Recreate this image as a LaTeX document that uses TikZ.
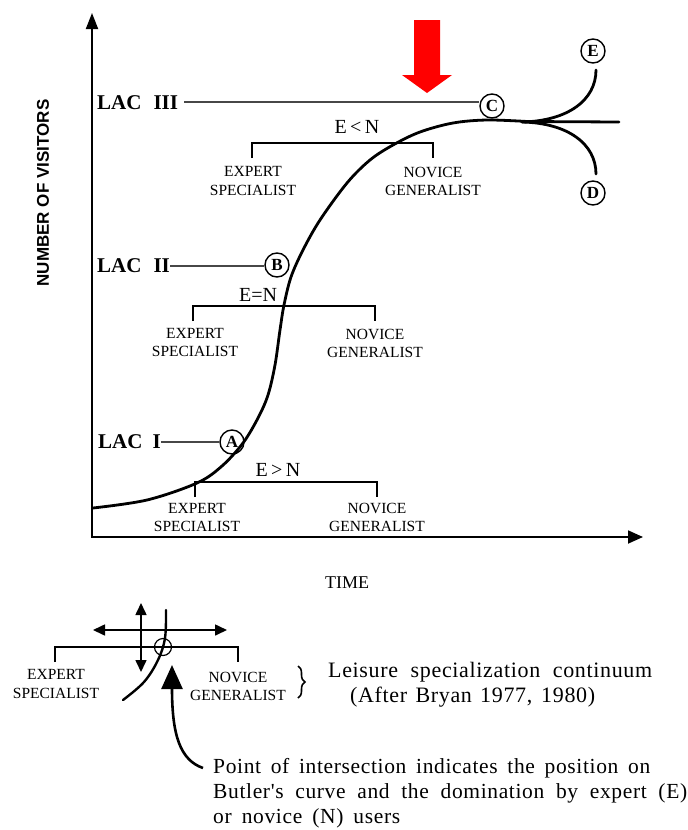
\documentclass[tikz,border=0pt]{standalone}
\usepackage{fontspec}
\setmainfont{Liberation Serif}
\newfontfamily\sansf{Liberation Sans}
\newfontfamily\spacedf{Liberation Serif}[LetterSpace=3]
\usetikzlibrary{arrows.meta,decorations.pathreplacing}
\tikzset{
  axisline/.style={line width=1.8pt, {Triangle[length=16pt,width=12pt]}-{Triangle[length=15pt,width=13pt]}},
  curveline/.style={line width=2.8pt, line cap=round},
  lacline/.style={line width=2.8pt, black!72},
  bracketline/.style={line width=2pt},
  circ/.style={circle, draw, line width=1.4pt, inner sep=0pt, minimum size=24pt, font=\bfseries\fontsize{17}{17}\selectfont},
  lac/.style={anchor=west, inner sep=0pt, font=\bfseries\fontsize{21}{21}\selectfont},
  rel/.style={inner sep=0pt, font=\fontsize{20}{20}\selectfont},
  role/.style={inner sep=0pt, align=center, font=\fontsize{15.5}{18.5}\selectfont},
  legarrow/.style={line width=1.6pt, {Triangle[length=12pt,width=11pt]}-{Triangle[length=12pt,width=11pt]}},
  note/.style={anchor=west, inner sep=0pt, font=\spacedf\fontsize{21.5}{25}\selectfont}
}
\begin{document}
\begin{tikzpicture}[x=1pt,y=-1pt]
\useasboundingbox (0,0) rectangle (688,830);
% axes
\coordinate (ytop) at (92,13);
\coordinate (origin) at (92,537);
\coordinate (xend) at (643,537);
\draw[axisline] (ytop) -- (origin) -- (xend);
\node[rotate=90, inner sep=0pt, font=\sansf\bfseries\fontsize{17}{17}\selectfont] (ylab) at (43,193) {NUMBER OF VISITORS};
\node[inner sep=0pt, font=\fontsize{18}{18}\selectfont] (time) at (347,583) {TIME};
% red arrow
\fill[red] (414,20) -- (440,20) -- (440,75) -- (452,75) -- (427,93) -- (402,75) -- (414,75) -- cycle;
% main curve
\draw[curveline] plot[smooth, tension=0.55] coordinates {(93,508) (147,500) (197,483) (222,466) (243,443) (258,418) (268,395) (275,365) (280,330) (284,305) (291,277) (303,250) (320,220) (347,183) (370,160) (393,145) (420,132) (453,123) (487,120) (527,121.5)} -- (619,122);
% branches
\coordinate (fork) at (522,122);
\draw[curveline] (fork) .. controls (568,121) and (596,100) .. (596,70);
\draw[curveline] (fork) .. controls (568,123) and (596,144) .. (596,174);
% circled letters
\node[circ] (A) at (232,442) {A};
\node[circ] (B) at (277,265) {B};
\node[circ] (C) at (492,106) {C};
\node[circ] (E) at (593,51) {E};
\node[circ] (D) at (593,193) {D};
% LAC labels
\node[lac] (lac3) at (97,103) {LAC\hspace{12pt}III};
\node[lac] (lac2) at (97,266) {LAC\hspace{12pt}II};
\node[lac] (lac1) at (98,442) {LAC\hspace{10pt}I};
\draw[lacline] ([xshift=6pt,yshift=1pt]lac3.east) -- ([yshift=1pt]lac3.east -| C.west);
\draw[lacline] (lac2.east) -- (lac2.east -| B.west);
\draw[lacline] (lac1.east) -- (lac1.east -| A.west);
% bracket E<N
\draw[bracketline] (252,158) |- (433,143) -- (433,158);
\node[rel] (r3) at (357,127) {E\,<\,N};
\node[role] (ex3) at (253,181) {EXPERT\\SPECIALIST};
\node[role] (nv3) at (433,181.5) {NOVICE\\GENERALIST};
% bracket E=N
\draw[bracketline] (193,321) |- (375,306) -- (375,321);
\node[rel] (r2) at (258,295) {E=N};
\node[role] (ex2) at (195,342.5) {EXPERT\\SPECIALIST};
\node[role] (nv2) at (375,343.5) {NOVICE\\GENERALIST};
% bracket E>N
\draw[bracketline] (195,497) |- (377,482) -- (377,497);
\node[rel] (r1) at (278,470) {E\,>\,N};
\node[role] (ex1) at (197,517.5) {EXPERT\\SPECIALIST};
\node[role] (nv1) at (377,517.5) {NOVICE\\GENERALIST};
% legend
\coordinate (hl) at (93,630);
\coordinate (hr) at (227,630);
\coordinate (vt) at (141,603);
\coordinate (vb) at (141,672);
\draw[legarrow] (hl) -- (hr);
\draw[legarrow] (vt) -- (vb);
\draw[bracketline] (55,662) |- (238,647) -- (238,662);
\node[circle, draw, line width=1.2pt, minimum size=17pt, inner sep=0pt] (X) at (163,647) {};
\draw[line width=2.4pt, line cap=round] plot[smooth, tension=0.6] coordinates {(166,610) (165,638) (158,660) (144,682) (123,700)};
\node[role] (exL) at (56,684) {EXPERT\\SPECIALIST};
\node[role] (nvL) at (238,686.5) {NOVICE\\GENERALIST};
\draw[decorate, decoration={brace, amplitude=7pt}, line width=1.6pt] (298,666) -- (298,698);
\node[anchor=west, inner sep=0pt, font=\spacedf\fontsize{22}{22}\selectfont] (leis) at (328,672) {\makebox[324pt][s]{Leisure specialization continuum}};
\node[anchor=west, inner sep=0pt, font=\spacedf\fontsize{22}{22}\selectfont] (after) at (350,697) {\makebox[245pt][s]{(After Bryan 1977, 1980)}};
\node[note] (n1) at (213,768) {\makebox[437pt][s]{Point of intersection indicates the position on}};
\node[note] (n2) at (213,793) {\makebox[474pt][s]{Butler's curve and the domination by expert (E)}};
\node[note] (n3) at (213,818) {\makebox[187pt][s]{or novice (N) users}};
\draw[line width=2.6pt, -{Triangle[length=24pt,width=21pt]}] ([xshift=-10pt]n1.west) .. controls (180,760) and (172,735) .. (172,665);
\end{tikzpicture}
\end{document}
